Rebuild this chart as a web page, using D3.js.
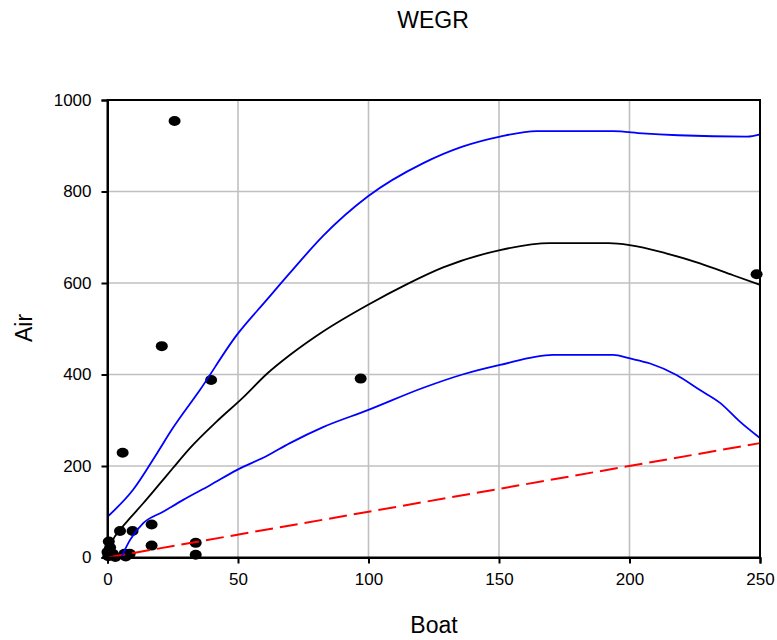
<!DOCTYPE html>
<html>
<head>
<meta charset="utf-8">
<script src="https://cdn.jsdelivr.net/npm/d3@7"></script>
<style>
  body { margin: 0; background: #fff; font-family: Arial, "Liberation Sans", sans-serif; }
  svg text { font-family: Arial, "Liberation Sans", sans-serif; }
</style>
</head>
<body>
<svg id="chart" width="777" height="640"></svg>
<script>
// Observations
const boat = [25.7, 20.8, 39.7, 5.8, 97, 248.7, 16.9, 9.6, 4.8, 33.8, 33.8, 16.9,
              0.5, 1, 0, 0.3, 2, 3, 6.5, 8.5, 7];
const air = [954, 462, 388, 229, 391, 619, 72, 58, 58, 32, 6, 26,
             35, 22, 12, 3, 8, 1, 8, 8, 2];

// Fitted curve and its upper / lower bands, as [boat, air]
const fitLine = [[0, 10], [2, 38], [5, 62], [8.6, 86], [13.6, 118], [19.4, 157], [25, 195],
                 [31.6, 239], [41.8, 297], [52, 350], [61, 401], [70, 443], [82.6, 494],
                 [99.7, 552], [114.6, 597], [128.6, 634], [150.4, 672], [169.5, 687],
                 [192, 687], [200, 683], [214, 665], [227, 643], [239.7, 617], [250, 596]];
const upperBand = [[0, 89], [9.8, 148], [19, 228], [24.6, 279], [35.4, 366], [49.5, 486],
                   [61, 563], [69.9, 622], [82.6, 703], [99.7, 789], [121, 862], [136, 898],
                   [150.4, 920], [164.4, 932], [193.7, 932], [205, 927], [218.6, 923],
                   [245, 920], [250, 925]];
const lowerBand = [[5.4, 2], [8.6, 38], [13.7, 75], [21.3, 100], [29, 126], [39.3, 158],
                   [49.5, 191], [61, 222], [69.9, 250], [82.6, 285], [99.7, 322], [121, 371],
                   [136, 400], [150.4, 421], [170.7, 443], [193.7, 443], [200.2, 435],
                   [207.9, 424], [218, 399], [227, 366], [234.7, 338], [242.3, 297], [250, 261]];
// 1:1 reference line
const oneToOne = [[0, 0], [250, 250]];

const xTicks = [0, 50, 100, 150, 200, 250];
const yTicks = [0, 200, 400, 600, 800, 1000];

const margin = { top: 100, left: 107.5 };
const width = 652.5, height = 457.5;

const svg = d3.select("#chart");
const g = svg.append("g").attr("transform", `translate(${margin.left},${margin.top})`);

const x = d3.scaleLinear().domain([0, 250]).range([0, width]);
const y = d3.scaleLinear().domain([0, 1000]).range([height, 0]);

// grid
g.append("g")
  .selectAll("line")
  .data(xTicks.slice(1, -1))
  .join("line")
  .attr("x1", d => x(d)).attr("x2", d => x(d))
  .attr("y1", 0).attr("y2", height)
  .attr("stroke", "#c0c0c0").attr("stroke-width", 1.6);
g.append("g")
  .selectAll("line")
  .data(yTicks.slice(1, -1))
  .join("line")
  .attr("y1", d => y(d)).attr("y2", d => y(d))
  .attr("x1", 0).attr("x2", width)
  .attr("stroke", "#c0c0c0").attr("stroke-width", 1.6);

// points
g.append("g")
  .selectAll("ellipse")
  .data(boat.map((b, i) => [b, air[i]]))
  .join("ellipse")
  .attr("cx", d => x(d[0]))
  .attr("cy", d => y(d[1]))
  .attr("rx", 6).attr("ry", 5)
  .attr("fill", "#000");

const line = d3.line().x(d => x(d[0])).y(d => y(d[1]));
const smooth = d3.line().x(d => x(d[0])).y(d => y(d[1])).curve(d3.curveMonotoneX);

g.append("path").datum(oneToOne)
  .attr("d", line).attr("fill", "none")
  .attr("stroke", "#ff0000").attr("stroke-width", 2)
  .attr("stroke-dasharray", "18,7");

g.append("path").datum(upperBand)
  .attr("d", smooth).attr("fill", "none")
  .attr("stroke", "#0000ff").attr("stroke-width", 1.8);
g.append("path").datum(lowerBand)
  .attr("d", smooth).attr("fill", "none")
  .attr("stroke", "#0000ff").attr("stroke-width", 1.8);
g.append("path").datum(fitLine)
  .attr("d", smooth).attr("fill", "none")
  .attr("stroke", "#000").attr("stroke-width", 1.8);

// frame
g.append("rect")
  .attr("width", width).attr("height", height)
  .attr("fill", "none").attr("stroke", "#000").attr("stroke-width", 2);

// axes
const xAxis = g.append("g")
  .attr("transform", `translate(0,${height})`)
  .call(d3.axisBottom(x).tickValues(xTicks).tickFormat(d3.format("d"))
    .tickSizeOuter(0).tickSize(6).tickPadding(9));
const yAxis = g.append("g")
  .call(d3.axisLeft(y).tickValues(yTicks).tickFormat(d3.format("d"))
    .tickSizeOuter(0).tickSize(6).tickPadding(10));
[xAxis, yAxis].forEach(a => {
  a.select(".domain").attr("stroke", "#000").attr("stroke-width", 2);
  a.selectAll(".tick line").attr("stroke", "#000").attr("stroke-width", 2);
  a.selectAll(".tick text").attr("font-size", 17).attr("fill", "#000");
});

// titles
svg.append("text")
  .attr("x", 433).attr("y", 28)
  .attr("text-anchor", "middle")
  .attr("font-size", 23)
  .text("WEGR");
svg.append("text")
  .attr("x", 434).attr("y", 633)
  .attr("text-anchor", "middle")
  .attr("font-size", 23)
  .text("Boat");
svg.append("text")
  .attr("transform", "translate(32,328) rotate(-90)")
  .attr("text-anchor", "middle")
  .attr("font-size", 23)
  .text("Air");
</script>
</body>
</html>
